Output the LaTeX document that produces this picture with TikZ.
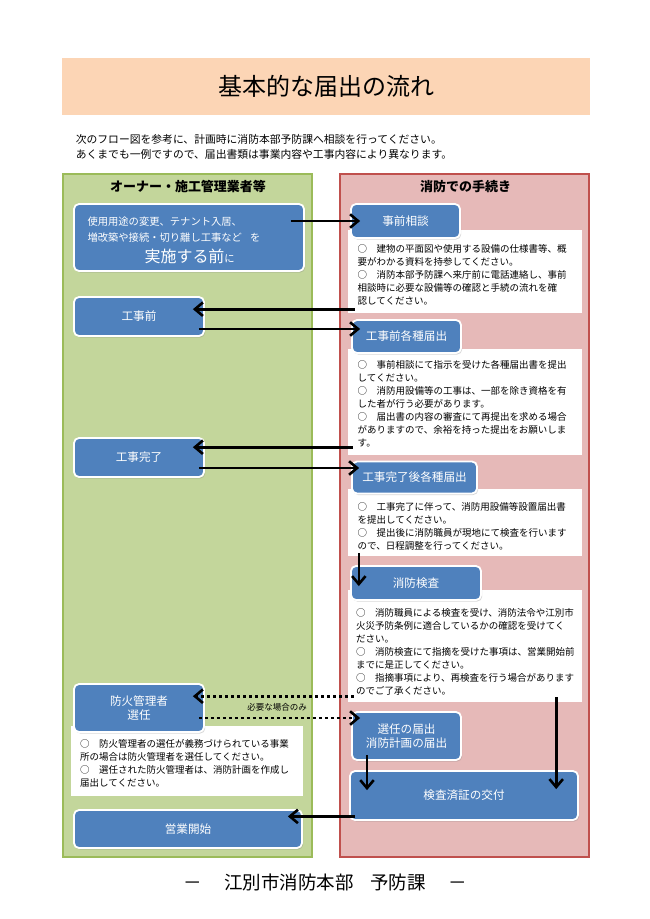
\documentclass[tikz,border=0pt]{standalone}
\usepackage{fontspec}
\newfontfamily\jp{Noto Sans CJK JP}
\usetikzlibrary{arrows.meta,shadows}
\definecolor{boxblue}{HTML}{4F81BD}
\definecolor{greenfill}{HTML}{C3D69B}
\definecolor{greenborder}{HTML}{9BBB59}
\definecolor{redfill}{HTML}{E6B9B8}
\definecolor{redborder}{HTML}{C0504D}
\definecolor{peach}{HTML}{FCD5B5}
\begin{document}
\begin{tikzpicture}[x=1pt,y=1pt,
  panel/.style={line width=1.6pt, inner sep=0pt},
  bbox/.style={draw=white, line width=1.8pt, fill=boxblue, rounded corners=5pt, text=white,
    inner sep=0pt, align=center, font=\jp\fontsize{11.6}{14.8}\selectfont,
    drop shadow={shadow xshift=1.2pt, shadow yshift=-1.5pt, opacity=0.3}},
  wbox/.style={fill=white, inner sep=0pt},
  wtext/.style={anchor=base west, align=left, inner sep=0pt, font=\jp\fontsize{9.5}{13.0}\selectfont},
  arr/.style={line width=2.6pt, -{Straight Barb[length=8pt,width=13.5pt]}},
  darr/.style={arr, dash pattern=on 3pt off 3pt},
]
\useasboundingbox (0,0) rectangle (650,-919);

% title
\node[fill=peach, minimum width=528, minimum height=57, inner sep=0pt,
  font=\jp\fontsize{24}{24}\selectfont] (title) at (326,-86.5) {基本的な届出の流れ};

% intro (base anchor = last line)
\node[anchor=base west, align=left, inner sep=0pt, font=\jp\fontsize{10.8}{14.6}\selectfont]
  (intro) at (75.6,-158.2) {次のフロー図を参考に、計画時に消防本部予防課へ相談を行ってください。\\あくまでも一例ですので、届出書類は事業内容や工事内容により異なります。};

% panels
\node[panel, draw=greenborder, fill=greenfill, minimum width=249, minimum height=683] (gpanel) at (187.5,-515.5) {};
\node[panel, draw=redborder, fill=redfill, minimum width=249, minimum height=683] (rpanel) at (464.5,-515.5) {};
\node[font=\jp\bfseries\fontsize{13}{13}\selectfont] (ghead) at (188,-187) {オーナー・施工管理業者等};
\node[font=\jp\bfseries\fontsize{13}{13}\selectfont] (rhead) at (465.5,-187) {消防での手続き};

% white boxes
\node[wbox, minimum width=234, minimum height=83] (wb1) at (465,-271.5) {};
\node[wbox, minimum width=234, minimum height=106] (wb2) at (465,-402) {};
\node[wbox, minimum width=234, minimum height=67] (wb3) at (465,-522.5) {};
\node[wbox, minimum width=234, minimum height=112] (wb4) at (465,-646) {};
\node[wbox, minimum width=232, minimum height=70] (wbL) at (187,-761) {};

% texts (base anchor = baseline of last line)
\node[wtext] (wb1t) at (357.5,-304) {○　建物の平面図や使用する設備の仕様書等、概\\要がわかる資料を持参してください。\\○　消防本部予防課へ来庁前に電話連絡し、事前\\相談時に必要な設備等の確認と手続の流れを確\\認してください。};
\node[wtext] (wb2t) at (357.5,-446.6) {○　事前相談にて指示を受けた各種届出書を提出\\してください。\\○　消防用設備等の工事は、一部を除き資格を有\\した者が行う必要があります。\\○　届出書の内容の審査にて再提出を求める場合\\がありますので、余裕を持った提出をお願いしま\\す。};
\node[wtext] (wb3t) at (357.5,-549.3) {○　工事完了に伴って、消防用設備等設置届出書\\を提出してください。\\○　提出後に消防職員が現地にて検査を行います\\ので、日程調整を行ってください。};
\node[wtext] (wb4t) at (356,-694.5) {○　消防職員による検査を受け、消防法令や江別市\\火災予防条例に適合しているかの確認を受けてく\\ださい。\\○　消防検査にて指摘を受けた事項は、営業開始前\\までに是正してください。\\○　指摘事項により、再検査を行う場合があります\\のでご了承ください。};
\node[wtext] (wbLt) at (80,-786.6) {○　防火管理者の選任が義務づけられている事業\\所の場合は防火管理者を選任してください。\\○　選任された防火管理者は、消防計画を作成し\\届出してください。};

% blue boxes
\node[bbox, minimum width=230, minimum height=67, align=left, text width=203pt, font=\jp\fontsize{10.3}{15.5}\selectfont] (b1) at (189,-237.5)
  {\rule{0pt}{15pt}使用用途の変更、テナント入居、\\増改築や接続・切り離し工事など\hspace{0.8em}を\\[5.7pt]\hspace*{57pt}{\fontsize{16}{16}\selectfont 実施する前}に};
\node[bbox, minimum width=109, minimum height=34] (jizen) at (405.5,-221) {事前相談};
\node[bbox, minimum width=130, minimum height=39] (kojimae) at (139,-316.5) {工事前};
\node[bbox, minimum width=109, minimum height=33] (kojimaeK) at (406.5,-336.5) {工事前各種届出};
\node[bbox, minimum width=130, minimum height=39] (kanryo) at (139,-457.5) {工事完了};
\node[bbox, minimum width=125, minimum height=32] (kanryogo) at (414.5,-477.5) {工事完了後各種届出};
\node[bbox, minimum width=130, minimum height=34] (kensa) at (416,-583) {消防検査};
\node[bbox, minimum width=130, minimum height=48] (boka) at (139,-708) {防火管理者\\選任};
\node[bbox, minimum width=109, minimum height=48] (senin) at (406.5,-736) {選任の届出\\消防計画の届出};
\node[bbox, minimum width=228, minimum height=49] (kenzai) at (464,-795.5) {検査済証の交付};
\node[bbox, minimum width=228, minimum height=38] (eigyo) at (188,-829) {営業開始};

% arrows
\draw[arr] ([xshift=-14pt]b1.east |- jizen.west) -- ([xshift=10pt]jizen.west);
\draw[arr] ([xshift=7pt,yshift=4pt]wb1.south west) coordinate (p2) -- ([xshift=-12pt]kojimae.east |- p2);
\draw[arr] ([xshift=-6pt,yshift=-12.5pt]kojimae.east) coordinate (p3) -- ([xshift=9pt]kojimaeK.west |- p3);
\draw[arr] ([xshift=5pt,yshift=8pt]wb2.south west) coordinate (p4) -- ([xshift=-12pt]kanryo.east |- p4);
\draw[arr] ([xshift=-6pt,yshift=-10.5pt]kanryo.east) coordinate (p5) -- ([xshift=8pt]kanryogo.west |- p5);
\draw[arr] ([xshift=11pt,yshift=3pt]wb3.south west) coordinate (p6) -- ([yshift=-21pt]kensa.north -| p6);
\draw[darr] ([xshift=6pt,yshift=6pt]wb4.south west) coordinate (p7) -- ([xshift=-12pt]boka.east |- p7);
\draw[darr] ([xshift=-6pt,yshift=-10pt]boka.east) coordinate (p8) -- ([xshift=9pt]senin.west |- p8);
\node[font=\jp\fontsize{8.5}{8.5}\selectfont, inner sep=0pt] (need) at (277,-707.5) {必要な場合のみ};
\draw[arr] ([xshift=-39.5pt,yshift=6pt]senin.south) coordinate (p9) -- ([yshift=-20pt]kenzai.north -| p9);
\draw[arr] ([xshift=-26pt,yshift=5pt]wb4.south east) coordinate (p10) -- ([yshift=-19pt]kenzai.north -| p10);
\draw[arr] ([xshift=6pt,yshift=4.5pt]kenzai.south west) coordinate (p11) -- ([xshift=-15pt]eigyo.east |- p11);

% footer
\node[font=\jp\fontsize{18.5}{18.5}\selectfont, inner sep=0pt] (footer) at (325,-882)
  {－\hspace{1.2em}江別市消防本部\hspace{0.9em}予防課\hspace{1.2em}－};
\end{tikzpicture}
\end{document}
